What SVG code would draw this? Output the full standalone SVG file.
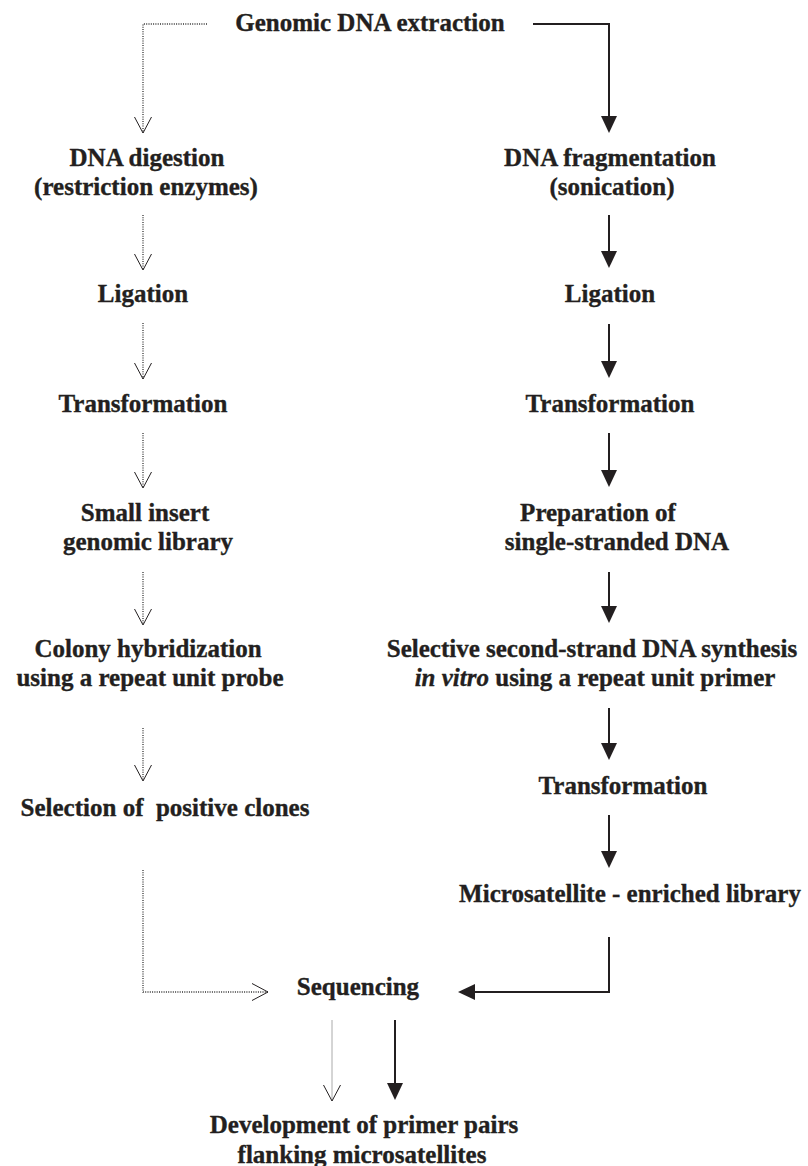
<svg xmlns="http://www.w3.org/2000/svg" width="808" height="1166" viewBox="0 0 808 1166">
<defs>
<style>
text{font-family:"Liberation Serif","Times New Roman",serif;font-weight:bold;font-size:25px;fill:#231f20;stroke:#231f20;stroke-width:0.35;text-anchor:middle}
.solid{stroke:#231f20;stroke-width:2;fill:none}
.dot{stroke:#333;stroke-width:1.3;stroke-dasharray:1 1.3;fill:none}
.thin{stroke:#aaa;stroke-width:1;fill:none}
</style>
<marker id="fa" viewBox="0 0 17 16" refX="14" refY="8" markerWidth="17" markerHeight="16" markerUnits="userSpaceOnUse" orient="auto">
<path d="M0,0 L17,8 L0,16 z" fill="#231f20"/>
</marker>
<marker id="oa" viewBox="-1 -1 18 19" refX="16" refY="8.5" markerWidth="18" markerHeight="19" markerUnits="userSpaceOnUse" orient="auto">
<path d="M0,0 L16,8.5 L0,17" fill="none" stroke="#231f20" stroke-width="1"/>
</marker>
</defs>
<rect width="808" height="1166" fill="#fff"/>
<g id="connectors">
<path class="dot" d="M207,24 H143 V133" marker-end="url(#oa)"/>
<path class="solid" d="M533,24 H609 V130" marker-end="url(#fa)"/>
<path class="dot" d="M143,215 V270" marker-end="url(#oa)"/>
<path class="dot" d="M143,323 V379" marker-end="url(#oa)"/>
<path class="dot" d="M143,433 V488" marker-end="url(#oa)"/>
<path class="dot" d="M143,572 V625" marker-end="url(#oa)"/>
<path class="dot" d="M143,728 V781" marker-end="url(#oa)"/>
<path class="dot" d="M143,870 V992 H268" marker-end="url(#oa)"/>
<path class="solid" d="M609,215 V265" marker-end="url(#fa)"/>
<path class="solid" d="M609,324 V375" marker-end="url(#fa)"/>
<path class="solid" d="M609,433 V484" marker-end="url(#fa)"/>
<path class="solid" d="M609,572 V620" marker-end="url(#fa)"/>
<path class="solid" d="M609,708 V757" marker-end="url(#fa)"/>
<path class="solid" d="M609,815 V865" marker-end="url(#fa)"/>
<path class="solid" d="M609,937 V992 H461" marker-end="url(#fa)"/>
<path class="thin" d="M332,1020 V1101" marker-end="url(#oa)"/>
<path class="solid" d="M395,1020 V1097" marker-end="url(#fa)"/>
</g>
<g id="n-genomic"><text x="370" y="31">Genomic DNA extraction</text></g>
<g id="n-digestion"><text x="147" y="166">DNA digestion</text><text x="146" y="195">(restriction enzymes)</text></g>
<g id="n-ligation-l"><text x="143" y="302">Ligation</text></g>
<g id="n-transf-l"><text x="143" y="412">Transformation</text></g>
<g id="n-library-l"><text x="145" y="521">Small insert</text><text x="148" y="550">genomic library</text></g>
<g id="n-colony"><text x="148" y="657">Colony hybridization</text><text x="150" y="686">using a repeat unit probe</text></g>
<g id="n-selection"><text x="165" y="816" xml:space="preserve">Selection of  positive clones</text></g>
<g id="n-fragment"><text x="610" y="166">DNA fragmentation</text><text x="612" y="195">(sonication)</text></g>
<g id="n-ligation-r"><text x="610" y="302">Ligation</text></g>
<g id="n-transf-r"><text x="610" y="412">Transformation</text></g>
<g id="n-prep"><text x="598" y="521">Preparation of</text><text x="617" y="550">single-stranded DNA</text></g>
<g id="n-selective"><text x="592" y="657">Selective second-strand DNA synthesis</text><text x="595" y="686"><tspan font-style="italic">in vitro</tspan> using a repeat unit primer</text></g>
<g id="n-transf-r2"><text x="623" y="794">Transformation</text></g>
<g id="n-micro"><text x="630" y="902">Microsatellite - enriched library</text></g>
<g id="n-seq"><text x="358" y="995">Sequencing</text></g>
<g id="n-dev"><text x="364" y="1133">Development of primer pairs</text><text x="362" y="1163">flanking microsatellites</text></g>
</svg>
